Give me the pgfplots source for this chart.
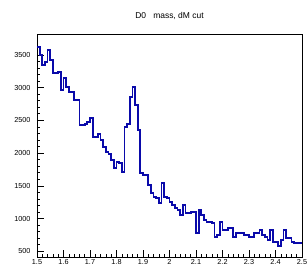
\documentclass[border=0pt]{standalone}
\usepackage{fontspec}
\setmainfont{Liberation Sans}
\usepackage{pgfplots}
\pgfplotsset{compat=1.18}
\definecolor{rootblue}{RGB}{10,10,170}
\begin{document}
\begin{tikzpicture}
\begin{axis}[name=ax,
  scale only axis, width=265bp, height=223bp,
  xmin=1.5, xmax=2.5, ymin=413, ymax=3818,
  axis line style={line width=0.8pt},
  tick align=inside,
  xtick pos=bottom, ytick pos=left,
  xtick={1.5,1.6,1.7,1.8,1.9,2.0,2.1,2.2,2.3,2.4,2.5},
  xticklabels={1.5,1.6,1.7,1.8,1.9,2,2.1,2.2,2.3,2.4,2.5},
  ytick={500,1000,1500,2000,2500,3000,3500},
  minor x tick num=4, minor y tick num=4,
  major tick length=7bp, minor tick length=3.5bp,
  every tick/.style={black, line width=0.6pt},
  /pgf/number format/assume math mode=true,
  /pgf/number format/1000 sep={},
  ticklabel style={font=\fontsize{7.3}{8}\selectfont},
  yticklabel style={xshift=-3bp},
  xticklabel style={yshift=1bp},
  title={D0\ \ \ mass, dM cut},
  title style={font=\fontsize{8.5}{10}\selectfont, yshift=5bp},
]
\addplot[const plot, rootblue, line width=1.8pt] coordinates {
(1.50,3623) (1.51,3501) (1.52,3348) (1.53,3394) (1.54,3577) (1.55,3424) (1.56,3225) (1.57,3225) (1.58,3240) (1.59,2965)
(1.60,3149) (1.61,3011) (1.62,2934) (1.63,2934) (1.64,2812) (1.65,2812) (1.66,2429) (1.67,2429) (1.68,2444) (1.69,2475)
(1.70,2536) (1.71,2245) (1.72,2245) (1.73,2291) (1.74,2199) (1.75,2092) (1.76,2016) (1.77,1985) (1.78,1893) (1.79,1771)
(1.80,1863) (1.81,1847) (1.82,1709) (1.83,2398) (1.84,2444) (1.85,2858) (1.86,3011) (1.87,2735) (1.88,2353) (1.89,1694)
(1.90,1664) (1.91,1664) (1.92,1510) (1.93,1388) (1.94,1327) (1.95,1311) (1.96,1235) (1.97,1541) (1.98,1327) (1.99,1311)
(2.00,1250) (2.01,1204) (2.02,1158) (2.03,1128) (2.04,1051) (2.05,1204) (2.06,1082) (2.07,1082) (2.08,1097) (2.09,1097)
(2.10,776) (2.11,1128) (2.12,1051) (2.13,975) (2.14,944) (2.15,944) (2.16,929) (2.17,714) (2.18,745) (2.19,944)
(2.20,822) (2.21,822) (2.22,852) (2.23,852) (2.24,714) (2.25,776) (2.26,776) (2.27,776) (2.28,745) (2.29,745)
(2.30,714) (2.31,714) (2.32,776) (2.33,776) (2.34,822) (2.35,745) (2.36,714) (2.37,668) (2.38,822) (2.39,638)
(2.40,638) (2.41,577) (2.42,668) (2.43,822) (2.44,699) (2.45,699) (2.46,638) (2.47,622) (2.48,622) (2.49,622)
(2.50,622)
};
\end{axis}
\pgfresetboundingbox
\path ([shift={(-37bp,-10bp)}]ax.south west) rectangle ([shift={(6bp,34bp)}]ax.north east);
\end{tikzpicture}
\end{document}
